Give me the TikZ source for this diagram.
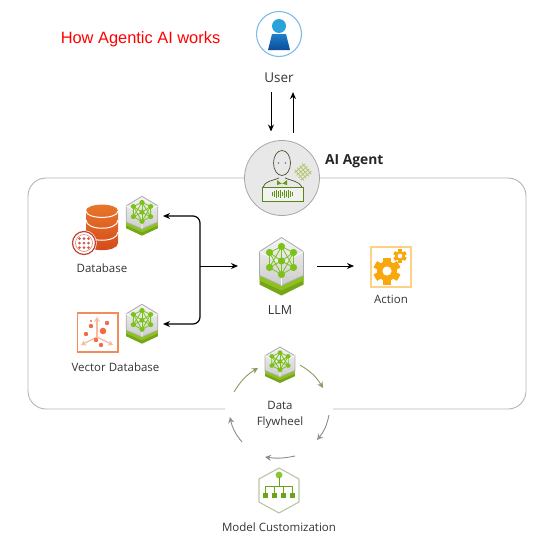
\documentclass[tikz,border=0pt]{standalone}
\usepackage{fontspec}
\setmainfont{Open Sans}
\newfontfamily\titlefont{Liberation Sans}
\usetikzlibrary{arrows.meta, positioning, calc}
\definecolor{nvgreen}{HTML}{7CC21A}
\definecolor{nvbase}{HTML}{8CC21E}
\definecolor{panelgray}{HTML}{B4B4AC}
\definecolor{labelgray}{HTML}{333333}
\definecolor{flyolive}{HTML}{8C9C60}
\definecolor{dborange}{HTML}{E8782A}
\definecolor{dbred}{HTML}{D4491C}
\definecolor{vecorange}{HTML}{F28C5A}
\definecolor{gearorange}{HTML}{F9A70C}
\definecolor{userhead}{HTML}{2AA3DC}
\definecolor{usertop}{HTML}{1F7FC8}
\definecolor{userbot}{HTML}{0B4C9A}
\definecolor{userring}{HTML}{7FBCE8}
\definecolor{badgered}{HTML}{C8402E}

\begin{document}
\begin{tikzpicture}[
    x=1pt,
    y=-1pt,
    every node/.style={font=\fontsize{11.5}{13}\selectfont, text=labelgray},
    rotulo/.style={
        inner sep=0pt,
        align=center
    },
    caixa/.style={
        inner sep=0pt,
        outer sep=0pt
    },
    seta/.style={
        -{Stealth[length=7pt,width=6pt]},
        black,
        line width=1pt
    },
    barra/.style={
        {Stealth[length=7pt,width=6pt]}-,
        black,
        line width=1.2pt,
        rounded corners=7pt
    },
    volta/.style={
        -{Stealth[length=6pt,width=6pt,open,fill=white]},
        line width=0.9pt
    },
    nimhex/.pic={
        \fill[nvbase!85!black] (-22,9) -- (0,19) -- (22,9) -- (22,18) -- (0,29) -- (-22,18) -- cycle;
        \fill[nvbase] (-22,9) -- (0,19) -- (22,9) -- (22,14) -- (0,24) -- (-22,14) -- cycle;
        \path[draw=gray!65, line width=0.8pt, top color=black!4, bottom color=black!20]
            (0,-29) -- (22,-15) -- (22,9) -- (0,19) -- (-22,9) -- (-22,-15) -- cycle;
        \draw[white, line width=0.7pt] (-22,-15) -- (0,-3) -- (22,-15) (0,-3) -- (0,19);
        \foreach \a/\b in {0/-20,-12/-14,12/-14,-12/1,12/1,0/8} {
            \draw[nvgreen, line width=0.8pt] (\a,\b) -- (0,-5.5);
        }
        \draw[nvgreen, line width=0.8pt]
            (0,-20) -- (12,-14) -- (12,1) -- (0,8) -- (-12,1) -- (-12,-14) -- cycle
            (-12,-14) -- (0,8) -- (12,-14) (-12,1) -- (0,-20) -- (12,1);
        \foreach \a/\b in {0/-20,-12/-14,12/-14,0/-5.5,-12/1,12/1,0/8} {
            \fill[nvgreen] (\a,\b) circle[radius=3.6];
        }
    },
    engrenagem/.pic={
        \foreach \r in {0,60,...,300} {
            \fill[gearorange, rotate=\r] (-3.6,-13.5) rectangle (3.6,0);
        }
        \fill[gearorange] (0,0) circle[radius=10];
        \fill[white] (0,0) circle[radius=4.6];
    }
]

\useasboundingbox (0,0) rectangle (535,541);

% ============================================================
% TITULO
% ============================================================

\node[
    rotulo,
    font=\titlefont\fontsize{16.4}{18}\selectfont,
    text=red
] (titulo) at (140.5,39)
{How Agentic AI works};

% ============================================================
% PAINEL
% ============================================================

\draw[
    panelgray,
    line width=0.9pt,
    rounded corners=18pt
]
    (333,409) -- (526,409) -- (526,178) -- (28,178) -- (28,409) -- (225,409);

% ============================================================
% USER
% ============================================================

\node[
    caixa,
    circle,
    minimum size=45pt,
    draw=userring,
    line width=1.1pt,
    fill=white
] (user) at (279,34) {};

\fill[userhead] (279,26) circle[radius=7];
\path[top color=usertop, bottom color=userbot]
    (272,34) -- (286,34) -- (290,50) -- (268,50) -- cycle;

\node[
    rotulo,
    font=\fontsize{13.5}{15}\selectfont
] (userlabel) at (279,78)
{User};

% ============================================================
% AI AGENT
% ============================================================

\node[
    caixa,
    circle,
    minimum size=75pt,
    draw=gray!70,
    line width=0.8pt,
    fill=black!9
] (agent) at (282,178) {};

\draw[seta, shorten <=9pt, shorten >=9pt]
    ([xshift=-8pt]userlabel.south) -- ([xshift=-8pt]userlabel.south |- agent.north);
\draw[seta, shorten <=8pt, shorten >=9pt]
    ([xshift=14pt]userlabel.south |- agent.north) -- ([xshift=14pt]userlabel.south);

% Rosto
\draw[black!55!olive, line width=0.7pt] (282,163) ellipse[x radius=8.5, y radius=12.5];
\fill[black!55] (278.5,163) circle[radius=0.9] (285.5,163) circle[radius=0.9];
\draw[black!55!olive, line width=0.7pt]
    (263,187) .. controls (265,181) and (272,181) .. (279,178)
    (285,178) .. controls (292,181) and (299,181) .. (302,187);
\fill[nvgreen!80!black] (277,180) -- (282,184) -- (287,180) -- (287,185) -- (282,183.5) -- (277,185) -- cycle;

% Crachá
\draw[nvgreen!70!black, line width=0.9pt, fill=black!5] (262,187) rectangle (303,201);
\foreach \i/\h in {0/2,1/3,2/4,3/3,4/4,5/2,6/4,7/3,8/4,9/3,10/2} {
    \draw[nvgreen!75!black, line width=0.6pt] (272.5+\i*2,194-\h) -- (272.5+\i*2,194+\h);
}

% Malha
\begin{scope}[rotate around={40:(303,172)}]
    \foreach \i in {-1.5,-0.5,0.5,1.5} {
        \draw[nvgreen!50!olive!60, line width=0.8pt] (303+\i*3.2,165) -- (303+\i*3.2,179);
        \draw[nvgreen!50!olive!60, line width=0.8pt] (296,172+\i*3.2) -- (310,172+\i*3.2);
    }
\end{scope}

\node[
    rotulo,
    font=\bfseries\fontsize{13.8}{15}\selectfont,
    text=black!85,
    anchor=west
] (agentlabel) at (325,161)
{AI Agent};

% ============================================================
% DATABASE
% ============================================================

\path[top color=dborange, bottom color=dbred]
    (86,211) .. controls (86,202.5) and (118,202.5) .. (118,211)
    -- (118,243) .. controls (118,252.5) and (86,252.5) .. (86,243) -- cycle;
\draw[white, line width=1pt]
    (86,211) .. controls (86,219.5) and (118,219.5) .. (118,211)
    (86,220) .. controls (86,231) and (118,231) .. (118,220)
    (86,232) .. controls (86,243) and (118,243) .. (118,232);

\node[
    caixa,
    circle,
    minimum size=24pt,
    draw=white,
    line width=1.5pt,
    fill=white
] (badgeout) at (84,243) {};
\node[
    caixa,
    circle,
    minimum size=23pt,
    draw=badgered,
    line width=1.2pt,
    fill=white
] (badge) at (84,243) {};
\draw[badgered!70, line width=0.5pt] (84,243) circle[radius=8.5];
\foreach \a in {-4.5,0,4.5} {
    \foreach \b in {-4.5,0,4.5} {
        \fill[badgered!85] (84+\a,243+\b) circle[radius=1.5];
    }
}

\node[rotulo] (dblabel) at (102,268) {Database};

\node[
    caixa,
    minimum width=42pt,
    minimum height=40pt
] (dbhex) at (142,216) {};
\pic[xscale=0.72, yscale=0.68] at (142,216) {nimhex};

% ============================================================
% VECTOR DATABASE
% ============================================================

\draw[vecorange, line width=1.2pt] (77.5,313) rectangle (118,352);
\draw[vecorange!60, line width=1.2pt, -{Stealth[length=5pt,width=6pt]}] (97,337) -- (97,317);
\draw[vecorange!60, line width=1.2pt, -{Stealth[length=5pt,width=6pt]}] (97,337) -- (81,345);
\draw[vecorange!60, line width=1.2pt, -{Stealth[length=5pt,width=6pt]}] (97,337) -- (113,345);
\foreach \a/\b/\r in {91/326/2.2, 107/323/2.2, 103/331/3.3, 86/334/2.2, 96/340/2.2, 101/345/2.2, 91/321/1.2} {
    \fill[vecorange!75!red] (\a,\b) circle[radius=\r];
}

\node[rotulo] (vdblabel) at (115.5,367) {Vector Database};

\node[
    caixa,
    minimum width=42pt,
    minimum height=40pt
] (vdbhex) at (142,324) {};
\pic[xscale=0.72, yscale=0.68] at (142,324) {nimhex};

% ============================================================
% LLM
% ============================================================

\node[
    caixa,
    minimum width=79pt,
    minimum height=60pt
] (llm) at (277.5,266) {};
\pic at (281.5,266.5) {nimhex};

\node[
    rotulo,
    font=\fontsize{12.5}{14}\selectfont
] (llmlabel) at (280,310) {LLM};

% ============================================================
% ACTION
% ============================================================

\node[
    caixa,
    minimum width=74pt,
    minimum height=40pt
] (action) at (391,266) {};

\draw[gearorange!50, line width=1.3pt] (371,247) rectangle (411,287);
\pic at (387,271) {engrenagem};
\pic[scale=0.5] at (400,256) {engrenagem};

\node[rotulo] (actionlabel) at (391,299) {Action};

% Setas
\coordinate (bus) at (200,266);

\draw[barra] (dbhex.east) -| (bus);
\draw[barra] (vdbhex.east) -| (bus);
\draw[seta] (bus) -- (llm.west);
\draw[seta] (llm.east) -- (action.west);

% ============================================================
% DATA FLYWHEEL
% ============================================================

\pic[xscale=0.68, yscale=0.62] at (280,365) {nimhex};

\node[rotulo] (flylabel) at (280,414.5) {Data\\[3pt]Flywheel};

\coordinate (fa) at (234,392);
\coordinate (fb) at (258,368);
\coordinate (fc) at (300,365);
\coordinate (fd) at (323,388);
\coordinate (fe) at (329,415);
\coordinate (ff) at (317,440);
\coordinate (fg) at (295,456);
\coordinate (fh) at (265,457);
\coordinate (fi) at (242,442);
\coordinate (fj) at (230,417);

\draw[volta, flyolive, -{Stealth[length=6pt,width=6pt]}] (fa) to[bend left=14] (fb);
\draw[volta, flyolive, -{Stealth[length=6pt,width=6pt]}] (fc) to[bend left=14] (fd);
\draw[volta, gray!90] (fe) to[bend left=14] (ff);
\draw[volta, gray!90] (fg) to[bend left=10] (fh);
\draw[volta, gray!90] (fi) to[bend left=14] (fj);

% ============================================================
% MODEL CUSTOMIZATION
% ============================================================

\draw[
    nvgreen!35!gray!55,
    line width=1.1pt,
    line join=round
]
    (279,468) -- (299,479) -- (299,502) -- (279,513) -- (259,502) -- (259,479) -- cycle;

\fill[nvgreen!90] (279,475) circle[radius=3.4];
\draw[nvgreen!85!black, line width=0.9pt]
    (279,477) -- (279,486)
    (265.5,486) -- (292.5,486)
    (265.5,486) -- (265.5,495)
    (274.5,486) -- (274.5,495)
    (283.5,486) -- (283.5,495)
    (292.5,486) -- (292.5,495);
\foreach \a in {265.5,274.5,283.5,292.5} {
    \fill[nvgreen!85!black] (\a-2.6,492.5) rectangle (\a+2.6,497.5);
}

\node[rotulo] (modellabel) at (279,527) {Model Customization};

\end{tikzpicture}
\end{document}
